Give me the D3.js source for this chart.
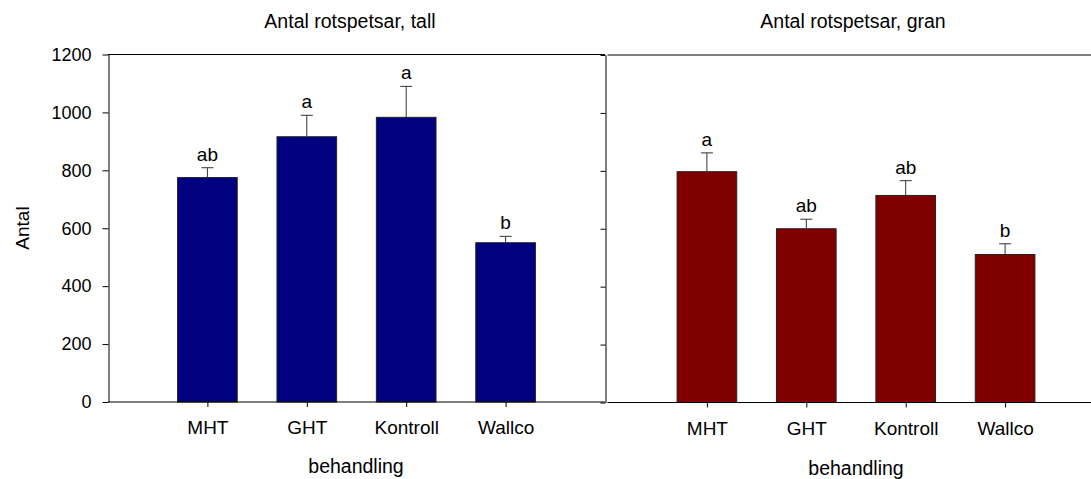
<!DOCTYPE html>
<html>
<head>
<meta charset="utf-8">
<script src="https://cdn.jsdelivr.net/npm/d3@7"></script>
<style>
  html, body { margin: 0; padding: 0; background: #fff; }
  svg { display: block; font-family: "Liberation Sans", Arial, sans-serif; }
</style>
</head>
<body>
<svg id="chart" width="1091" height="479"></svg>
<script>
const categories = ["MHT", "GHT", "Kontroll", "Wallco"];
const tallValues = [775, 916, 983, 550];
const tallErrors = [34, 74, 107, 22];
const tallLetters = ["ab", "a", "a", "b"];
const granValues = [797, 600, 715, 511];
const granErrors = [65, 33, 51, 37];
const granLetters = ["a", "ab", "ab", "b"];
const yTicks = [0, 200, 400, 600, 800, 1000, 1200];
const titles = ["Antal rotspetsar, tall", "Antal rotspetsar, gran"];
const xTitle = "behandling";
const yTitle = "Antal";

const svg = d3.select("#chart");

function panel(opts) {
  const g = svg.append("g");
  const x = d3.scaleLinear().domain([0, categories.length + 1]).range([opts.x0, opts.x1]);
  const y = d3.scaleLinear().domain([0, 1200]).range([opts.yb, opts.yt]);
  const barW = x(0.6) - x(0);

  // bars
  g.selectAll("rect.bar").data(opts.values).join("rect")
    .attr("class", "bar")
    .attr("x", (d, i) => x(i + 1) - barW / 2)
    .attr("y", d => y(d))
    .attr("width", barW)
    .attr("height", d => y(0) - y(d))
    .attr("fill", opts.color)
    .attr("stroke", "#222")
    .attr("stroke-width", 1);

  // error bars (upward only)
  const eg = g.selectAll("g.err").data(opts.values).join("g").attr("class", "err");
  eg.append("line")
    .attr("x1", (d, i) => x(i + 1)).attr("x2", (d, i) => x(i + 1))
    .attr("y1", d => y(d)).attr("y2", (d, i) => y(d + opts.errors[i]))
    .attr("stroke", "#333").attr("stroke-width", 1);
  eg.append("line")
    .attr("x1", (d, i) => x(i + 1) - 6).attr("x2", (d, i) => x(i + 1) + 6)
    .attr("y1", (d, i) => y(d + opts.errors[i])).attr("y2", (d, i) => y(d + opts.errors[i]))
    .attr("stroke", "#333").attr("stroke-width", 1);

  // significance letters
  g.selectAll("text.letter").data(opts.values).join("text")
    .attr("class", "letter")
    .attr("x", (d, i) => x(i + 1))
    .attr("y", (d, i) => y(d + opts.errors[i]) - 7)
    .attr("text-anchor", "middle")
    .attr("font-size", 19)
    .attr("fill", "#000")
    .text((d, i) => opts.letters[i]);

  // x axis
  const xAxis = d3.axisBottom(x)
    .tickValues(d3.range(1, categories.length + 1))
    .tickFormat(i => categories[i - 1])
    .tickSizeInner(5).tickSizeOuter(0).tickPadding(14);
  const xg = g.append("g").attr("transform", `translate(0,${opts.yb})`).call(xAxis);
  xg.select(".domain").attr("d", `M${opts.x0},0H${Math.min(opts.x1, 1091)}`).attr("stroke", "#000");
  xg.selectAll(".tick line").attr("stroke", "#000");
  xg.selectAll(".tick text").attr("font-size", 19).attr("fill", "#000").attr("font-family", "Liberation Sans, Arial, sans-serif");

  // top border
  g.append("line")
    .attr("x1", opts.x0).attr("x2", Math.min(opts.x1, 1091))
    .attr("y1", opts.yt).attr("y2", opts.yt)
    .attr("stroke", "#000").attr("stroke-width", 1);

  // left axis
  const yAxis = d3.axisLeft(y).tickValues(yTicks).tickSizeInner(opts.showYLabels ? 6 : 5).tickSizeOuter(0).tickPadding(11)
    .tickFormat(opts.showYLabels ? d3.format("d") : () => "");
  const yg = g.append("g").attr("transform", `translate(${opts.axisX},0)`).call(yAxis);
  yg.select(".domain").attr("stroke", "#000");
  yg.selectAll(".tick line").attr("stroke", "#000");
  yg.selectAll(".tick text").attr("font-size", 18).attr("fill", "#000").attr("font-family", "Liberation Sans, Arial, sans-serif");

  // titles
  g.append("text")
    .attr("x", opts.titleX).attr("y", 28)
    .attr("text-anchor", "middle").attr("font-size", 19.5).attr("fill", "#000")
    .text(opts.title);
  g.append("text")
    .attr("x", opts.titleX + opts.xTitleShift).attr("y", opts.xTitleY)
    .attr("text-anchor", "middle").attr("font-size", 19.5).attr("fill", "#000")
    .text(xTitle);
}

panel({
  x0: 108, x1: 605, axisX: 108.5, yb: 402, yt: 54.5,
  values: tallValues, errors: tallErrors, letters: tallLetters,
  color: "#000080", showYLabels: true, title: titles[0], titleX: 350, xTitleShift: 6, xTitleY: 473
});
panel({
  x0: 607.5, x1: 1104.5, axisX: 605.5, yb: 402.5, yt: 55,
  values: granValues, errors: granErrors, letters: granLetters,
  color: "#800000", showYLabels: false, title: titles[1], titleX: 853, xTitleShift: 3, xTitleY: 475
});

// y axis title
svg.append("text")
  .attr("transform", "translate(29,228) rotate(-90)")
  .attr("text-anchor", "middle").attr("font-size", 19).attr("fill", "#000")
  .text(yTitle);
</script>
</body>
</html>
